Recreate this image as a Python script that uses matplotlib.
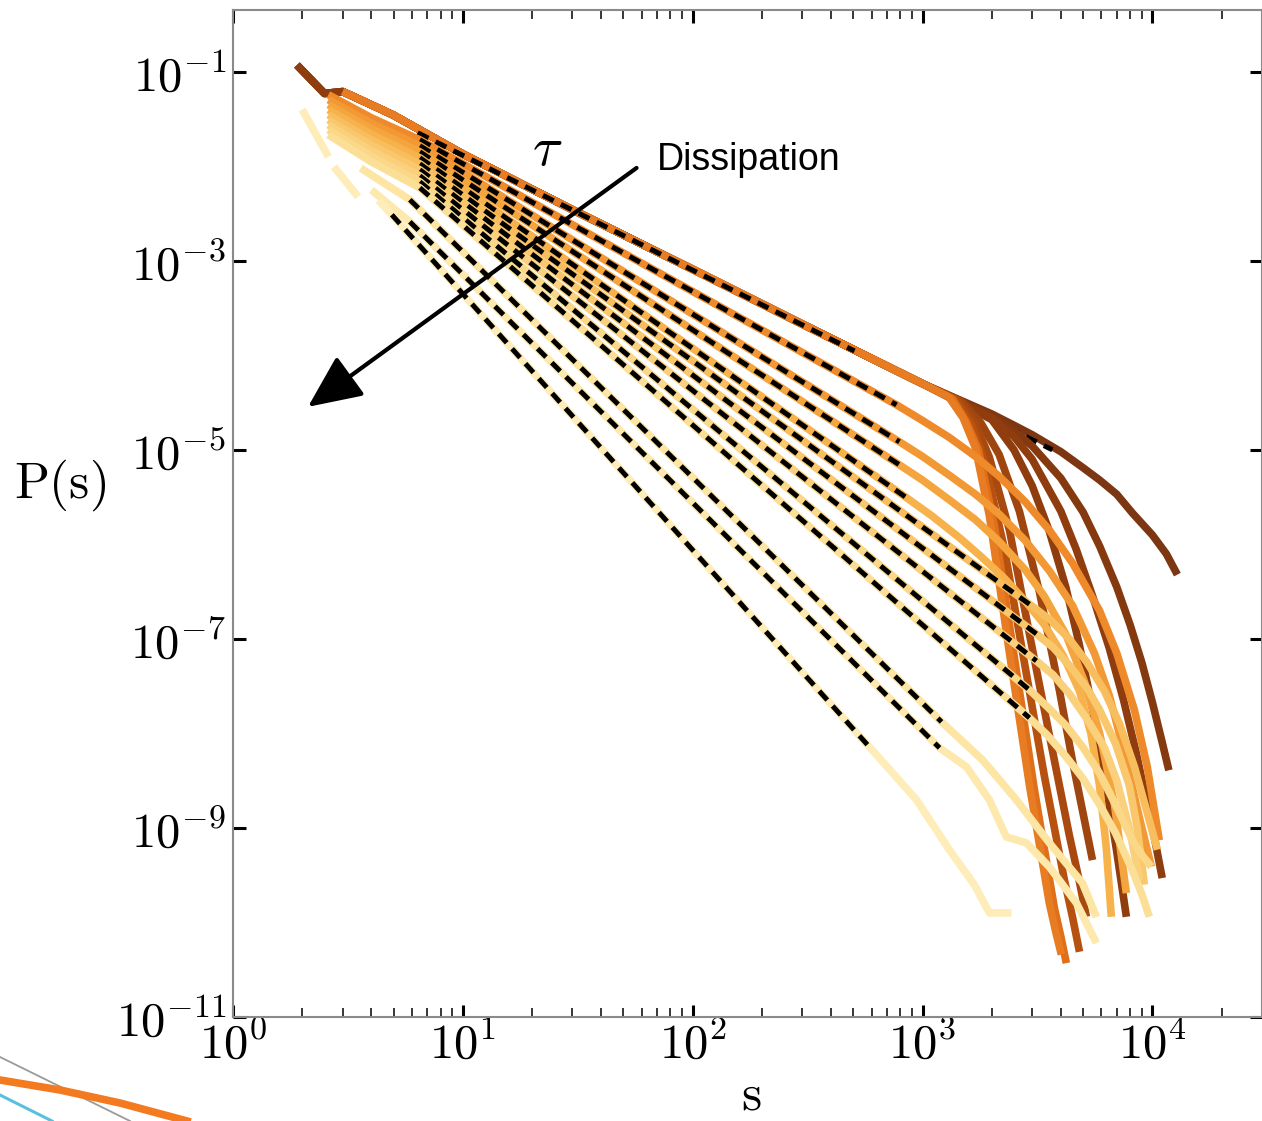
import numpy as np
import matplotlib
matplotlib.use('Agg')
import matplotlib.pyplot as plt
from matplotlib.lines import Line2D
from matplotlib.ticker import LogLocator, NullFormatter, NullLocator, FuncFormatter

plt.rcParams['mathtext.fontset'] = 'cm'
plt.rcParams['font.family'] = 'DejaVu Serif'

# ---- avalanche size distributions, log10 P(s) ----
# shared head of the weakly dissipative curves (top envelope)
body_s = [1.9, 2.5, 3, 4, 5, 10, 30, 100, 300, 1000]
body_logp = [-0.93, -1.23, -1.21, -1.35, -1.46, -1.87, -2.46, -3.09, -3.67, -4.30]
# index in body_s where each of these curves begins
dark_start = [0, 0, 0, 0, 2, 2, 2, 2, 2]

# their cutoffs, darkest first
dark_tail_s = [
    [2000, 2500, 3000, 4000, 5000, 5900, 7000, 8200, 10000, 11500, 12850],
    [2000, 2500, 3000, 4000, 5000, 5900, 7000, 8000, 9000, 10000, 11000, 11800],
    [2000, 2500, 3000, 4000, 4660, 5500, 6500, 7500, 8500, 9500, 10300, 11040],
    [2000, 2500, 3000, 3550, 4200, 4800, 5500, 6300, 7000, 7710],
    [1500, 1800, 2155, 2640, 3225, 3945, 4500, 5000, 5490],
    [1450, 1700, 1955, 2390, 2920, 3565, 4355, 4800, 5165],
    [1400, 1650, 1860, 2274, 2775, 3390, 4143, 4500, 4820],
    [1350, 1550, 1750, 2056, 2512, 3070, 3750, 4000, 4225],
    [1300, 1500, 1700, 1955, 2390, 2920, 3565, 3800, 4020],
]
dark_tail_logp = [
    [-4.62, -4.74, -4.84, -5.02, -5.19, -5.32, -5.47, -5.67, -5.90, -6.10, -6.32],
    [-4.64, -4.80, -4.96, -5.30, -5.66, -6.02, -6.45, -6.85, -7.25, -7.67, -8.08, -8.39],
    [-4.66, -4.86, -5.10, -5.65, -6.05, -6.55, -7.10, -7.65, -8.20, -8.75, -9.15, -9.53],
    [-4.68, -5.00, -5.38, -5.85, -6.45, -7.05, -7.75, -8.55, -9.25, -9.94],
    [-4.50, -4.72, -5.05, -5.65, -6.50, -7.55, -8.30, -8.85, -9.34],
    [-4.48, -4.72, -5.08, -5.85, -6.95, -8.02, -9.08, -9.55, -9.94],
    [-4.47, -4.75, -5.12, -6.05, -7.25, -8.45, -9.55, -9.95, -10.31],
    [-4.46, -4.70, -5.00, -5.80, -7.20, -8.60, -9.85, -10.15, -10.43],
    [-4.44, -4.66, -4.98, -5.70, -7.15, -8.55, -9.80, -10.10, -10.34],
]
dark_colors = ['#7c3611', '#85390f', '#8f3d0e', '#8f3d0e', '#9f450f',
               '#a9490f', '#b65110', '#e06f1a', '#e77c22']

# intermediate dissipation
mid_s = [
    [2.6, 4.0, 6.5, 771, 1000, 1310, 1700, 2155, 2800, 3565, 4500, 5890, 7000, 8350, 9500, 10720],
    [2.6, 4.0, 6.5, 794, 1000, 1310, 1700, 2155, 2800, 3565, 4500, 5595, 6500, 7550, 8700, 9900],
    [2.6, 4.0, 6.5, 794, 1000, 1310, 1700, 2155, 2800, 3390, 4200, 5060, 5900, 6840, 7710],
    [2.6, 4.0, 6.5, 878, 1100, 1449, 1800, 2274, 2800, 3390, 4100, 4820, 5400, 5890, 6300, 6630],
    [2.6, 4.0, 6.5, 3070, 3600, 4355, 5200, 6185, 7200, 8350, 9400, 10520],
    [2.6, 4.0, 6.5, 3130, 3700, 4355, 5200, 5890, 6900, 7940, 8600, 9230],
    [2.6, 4.0, 6.5, 3130, 3700, 4355, 5200, 6185, 7000, 7940, 8800],
    [2.6, 4.0, 6.5, 2920, 3500, 4225, 5000, 5890, 6900, 8190, 9100, 9900],
    [2.6, 4.0, 6.5, 2920, 3500, 4225, 5000, 5890, 6900, 8190, 9000, 9700],
]
mid_logp = [
    [-1.243, -1.487, -1.720, -4.524, -4.69, -4.87, -5.07, -5.28, -5.55, -5.85, -6.20, -6.70, -7.15, -7.75, -8.35, -9.13],
    [-1.296, -1.545, -1.783, -4.915, -5.07, -5.27, -5.47, -5.68, -5.96, -6.28, -6.65, -7.15, -7.60, -8.20, -8.85, -9.41],
    [-1.349, -1.603, -1.847, -5.159, -5.32, -5.53, -5.74, -5.97, -6.27, -6.55, -6.95, -7.45, -8.00, -8.75, -9.69],
    [-1.402, -1.662, -1.910, -5.529, -5.70, -5.93, -6.13, -6.36, -6.60, -6.85, -7.18, -7.55, -8.00, -8.55, -9.20, -9.94],
    [-1.455, -1.720, -1.974, -6.672, -6.80, -7.00, -7.25, -7.55, -7.90, -8.35, -8.80, -9.23],
    [-1.508, -1.778, -2.037, -6.947, -7.09, -7.28, -7.52, -7.75, -8.10, -8.55, -9.00, -9.60],
    [-1.561, -1.836, -2.101, -7.233, -7.38, -7.58, -7.85, -8.15, -8.50, -9.00, -9.55],
    [-1.614, -1.895, -2.164, -7.540, -7.72, -7.92, -8.15, -8.42, -8.75, -9.13, -9.30, -9.41],
    [-1.667, -1.953, -2.228, -7.836, -8.02, -8.25, -8.48, -8.75, -9.05, -9.45, -9.70, -9.94],
]
mid_colors = ['#ee8a2a', '#f29834', '#f5a53e', '#f7b24c', '#f8bd5c',
              '#f9c76c', '#fad07c', '#fbd888', '#fcdf96']

# strongest dissipation (gaps where no avalanches were recorded)
light_s = [
    [3.6, 5.88, 1210, 1823, 2563, 3565, 4963, 5710],
    [4.0, 5.88, 1186, 1553, 1955, 2317, 2832, 3565, 4673, 5710],
    [2.0, 2.6, np.nan, 2.75, 3.5, np.nan, 4.3, 4.91, 577, 700, 942, 1310, 1683, 1955, 2438],
]
light_logp = [
    [-2.02, -2.354, -7.878, -8.280, -8.704, -9.159, -9.582, -9.942],
    [-2.25, -2.587, -8.153, -8.354, -8.704, -9.095, -9.159, -9.413, -9.794, -10.217],
    [-1.40, -1.90, np.nan, -2.005, -2.323, np.nan, -2.36, -2.513, -8.122, -8.35, -8.704,
     -9.233, -9.603, -9.899, -9.899],
]
light_colors = ['#fde5a4', '#fde9ae', '#feedb8']

# power-law fits: (s_start, s_end, log10 P_start, log10 P_end)
dark_fit_long = (6.36, 3675, -1.646, -5.0)
dark_fit_short = (6.36, 506, -1.646, -3.954)
mid_fits = [
    (6.5, 771, -1.720, -4.524),
    (6.5, 794, -1.783, -4.915),
    (6.5, 794, -1.847, -5.159),
    (6.5, 878, -1.910, -5.529),
    (6.5, 3070, -1.974, -6.672),
    (6.5, 3130, -2.037, -6.947),
    (6.5, 3130, -2.101, -7.233),
    (6.5, 2920, -2.164, -7.540),
    (6.5, 2920, -2.228, -7.836),
]
light_fits = [
    (5.88, 1210, -2.354, -7.878),
    (5.88, 1186, -2.587, -8.153),
    (4.91, 577, -2.513, -8.122),
]

fig = plt.figure(figsize=(12.62, 11.21), dpi=100)
ax = fig.add_axes([233 / 1262, 1 - 1017 / 1121, 1029 / 1262, 1007 / 1121])


def curve(s, logp, color):
    ax.plot(s, 10.0 ** np.asarray(logp, dtype=float), color=color, lw=5.5,
            solid_capstyle='butt', solid_joinstyle='round')


def fit(f):
    s0, s1, p0, p1 = f
    ax.plot([s0, s1], [10.0 ** p0, 10.0 ** p1], color='k', lw=3.6,
            dashes=(2.4, 1.6), dash_capstyle='butt')


# weak dissipation: common head + individual cutoffs
for i, (k, ts, tp, c) in enumerate(zip(dark_start, dark_tail_s, dark_tail_logp, dark_colors)):
    curve(body_s[k:] + ts, body_logp[k:] + tp, c)
    if i == 0:
        fit(dark_fit_long)
fit(dark_fit_short)

for s, lp, c, f in zip(mid_s, mid_logp, mid_colors, mid_fits):
    curve(s, lp, c)
    fit(f)

for s, lp, c, f in zip(light_s, light_logp, light_colors, light_fits):
    curve(s, lp, c)
    fit(f)

ax.set_xscale('log')
ax.set_yscale('log')
ax.set_xlim(1, 3e4)
ax.set_ylim(1e-11, 0.45)

ax.set_xticks([1, 10, 100, 1000, 1e4])
ax.xaxis.set_minor_locator(LogLocator(base=10, subs=np.arange(2, 10), numticks=20))
ax.xaxis.set_minor_formatter(NullFormatter())
ax.set_yticks([1e-11, 1e-9, 1e-7, 1e-5, 1e-3, 1e-1])
ax.yaxis.set_minor_locator(NullLocator())

sci = FuncFormatter(lambda v, pos: r'$\mathrm{10^{%d}}$' % int(round(np.log10(v))))
ax.xaxis.set_major_formatter(sci)
ax.yaxis.set_major_formatter(sci)

ax.tick_params(which='both', direction='in', top=True, right=True, color='k')
ax.tick_params(which='major', length=9, width=2.2, labelsize=35, pad=5)
ax.tick_params(axis='x', which='major', pad=3)
ax.tick_params(which='minor', length=6.5, width=1.1)
for sp in ax.spines.values():
    sp.set_color('#8a8a8a')
    sp.set_linewidth(1.5)

ax.set_xlabel(r'$\mathrm{s}$', fontsize=37, va='center')
ax.xaxis.set_label_coords(0.504, -0.078)
ax.set_ylabel(r'$\mathrm{P(s)}$', fontsize=37, rotation=0, va='center', ha='center')
ax.yaxis.set_label_coords(-0.168, 0.528)

ax.text(23.4, 0.015, r'$\tau$', fontsize=40, ha='center', va='center')
ax.annotate('', xy=(2.12, 2.85e-5), xytext=(57, 9.6e-3),
            arrowprops=dict(arrowstyle='-|>,head_length=0.55,head_width=0.25',
                            lw=3, color='k', mutation_scale=60, shrinkA=0, shrinkB=0))
ax.text(70, 1.16e-2, 'Dissipation', fontsize=27, family='Liberation Sans',
        ha='left', va='center')

# slide decoration in the lower-left corner
W, H = 1262.0, 1121.0
for xs, ys, c, w in [
    ([0, 130], [1057, 1121], '#9a9a9a', 1.3),
    ([0, 60, 120, 187], [1080, 1090, 1103, 1121], '#f47a20', 5.5),
    ([0, 52], [1095, 1121], '#5bc0de', 2.2),
]:
    fig.add_artist(Line2D(np.array(xs) / W, 1 - np.array(ys) / H,
                          color=c, lw=w, transform=fig.transFigure))

fig.savefig('out.png', dpi=100)
